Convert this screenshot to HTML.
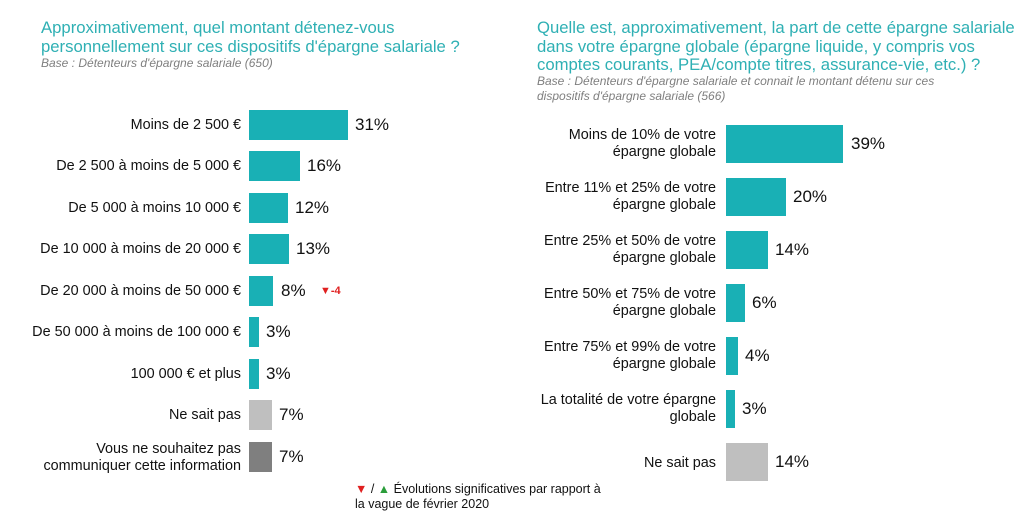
<!DOCTYPE html>
<html><head><meta charset="utf-8"><style>
body{margin:0;width:1032px;height:527px;background:#fff;font-family:"Liberation Sans",sans-serif;position:relative;overflow:hidden}
.t{position:absolute;color:#2fb0b4;font-size:16.7px;line-height:18.5px;white-space:nowrap}
.b{position:absolute;color:#7f7f7f;font-size:12px;font-style:italic;line-height:15px;white-space:nowrap}
.l{position:absolute;font-size:14.4px;color:#111;text-align:right;line-height:17px;white-space:nowrap}
.bar{position:absolute;background:#19b0b5}
.v{position:absolute;font-size:17px;color:#111}
</style></head><body>
<div class="t" style="left:41px;top:19px">Approximativement, quel montant détenez-vous<br>personnellement sur ces dispositifs d'épargne salariale ?</div>
<div class="b" style="left:41px;top:56px">Base : Détenteurs d'épargne salariale (650)</div>
<div class="t" style="left:537px;top:19px">Quelle est, approximativement, la part de cette épargne salariale<br>dans votre épargne globale (épargne liquide, y compris vos<br>comptes courants, PEA/compte titres, assurance-vie, etc.) ?</div>
<div class="b" style="left:537px;top:74px">Base : Détenteurs d'épargne salariale et connait le montant détenu sur ces<br>dispositifs d'épargne salariale (566)</div>

<div class="l" style="right:791px;top:117px">Moins de 2 500 €</div><div class="bar" style="left:249px;top:110px;width:99px;height:30px"></div><div class="v" style="left:355px;top:115px">31%</div>
<div class="l" style="right:791px;top:158px">De 2 500 à moins de 5 000 €</div><div class="bar" style="left:249px;top:151px;width:51px;height:30px"></div><div class="v" style="left:307px;top:156px">16%</div>
<div class="l" style="right:791px;top:200px">De 5 000 à moins 10 000 €</div><div class="bar" style="left:249px;top:193px;width:39px;height:30px"></div><div class="v" style="left:295px;top:198px">12%</div>
<div class="l" style="right:791px;top:241px">De 10 000 à moins de 20 000 €</div><div class="bar" style="left:249px;top:234px;width:40px;height:30px"></div><div class="v" style="left:296px;top:239px">13%</div>
<div class="l" style="right:791px;top:283px">De 20 000 à moins de 50 000 €</div><div class="bar" style="left:249px;top:276px;width:24px;height:30px"></div><div class="v" style="left:281px;top:281px">8%</div>
<div style="position:absolute;left:320px;top:285px;color:#e02020;font-size:11px;font-weight:bold">▼-4</div>
<div class="l" style="right:791px;top:324px">De 50 000 à moins de 100 000 €</div><div class="bar" style="left:249px;top:317px;width:10px;height:30px"></div><div class="v" style="left:266px;top:322px">3%</div>
<div class="l" style="right:791px;top:366px">100 000 € et plus</div><div class="bar" style="left:249px;top:359px;width:10px;height:30px"></div><div class="v" style="left:266px;top:364px">3%</div>
<div class="l" style="right:791px;top:407px">Ne sait pas</div><div class="bar" style="left:249px;top:400px;width:23px;height:30px;background:#bfbfbf"></div><div class="v" style="left:279px;top:405px">7%</div>
<div class="l" style="right:791px;top:441px">Vous ne souhaitez pas<br>communiquer cette information</div><div class="bar" style="left:249px;top:442px;width:23px;height:30px;background:#7f7f7f"></div><div class="v" style="left:279px;top:447px">7%</div>

<div style="position:absolute;left:355px;top:482px;font-size:12.5px;line-height:15px;color:#111"><span style="color:#e02020">▼</span> / <span style="color:#2a9d3a">▲</span> Évolutions significatives par rapport à<br>la vague de février 2020</div>

<div class="l" style="right:316px;top:127px">Moins de 10% de votre<br>épargne globale</div><div class="bar" style="left:726px;top:125px;width:117px;height:38px"></div><div class="v" style="left:851px;top:134px">39%</div>
<div class="l" style="right:316px;top:180px">Entre 11% et 25% de votre<br>épargne globale</div><div class="bar" style="left:726px;top:178px;width:60px;height:38px"></div><div class="v" style="left:793px;top:187px">20%</div>
<div class="l" style="right:316px;top:233px">Entre 25% et 50% de votre<br>épargne globale</div><div class="bar" style="left:726px;top:231px;width:42px;height:38px"></div><div class="v" style="left:775px;top:240px">14%</div>
<div class="l" style="right:316px;top:286px">Entre 50% et 75% de votre<br>épargne globale</div><div class="bar" style="left:726px;top:284px;width:19px;height:38px"></div><div class="v" style="left:752px;top:293px">6%</div>
<div class="l" style="right:316px;top:339px">Entre 75% et 99% de votre<br>épargne globale</div><div class="bar" style="left:726px;top:337px;width:12px;height:38px"></div><div class="v" style="left:745px;top:346px">4%</div>
<div class="l" style="right:316px;top:392px">La totalité de votre épargne<br>globale</div><div class="bar" style="left:726px;top:390px;width:9px;height:38px"></div><div class="v" style="left:742px;top:399px">3%</div>
<div class="l" style="right:316px;top:455px">Ne sait pas</div><div class="bar" style="left:726px;top:443px;width:42px;height:38px;background:#bfbfbf"></div><div class="v" style="left:775px;top:452px">14%</div>
</body></html>
